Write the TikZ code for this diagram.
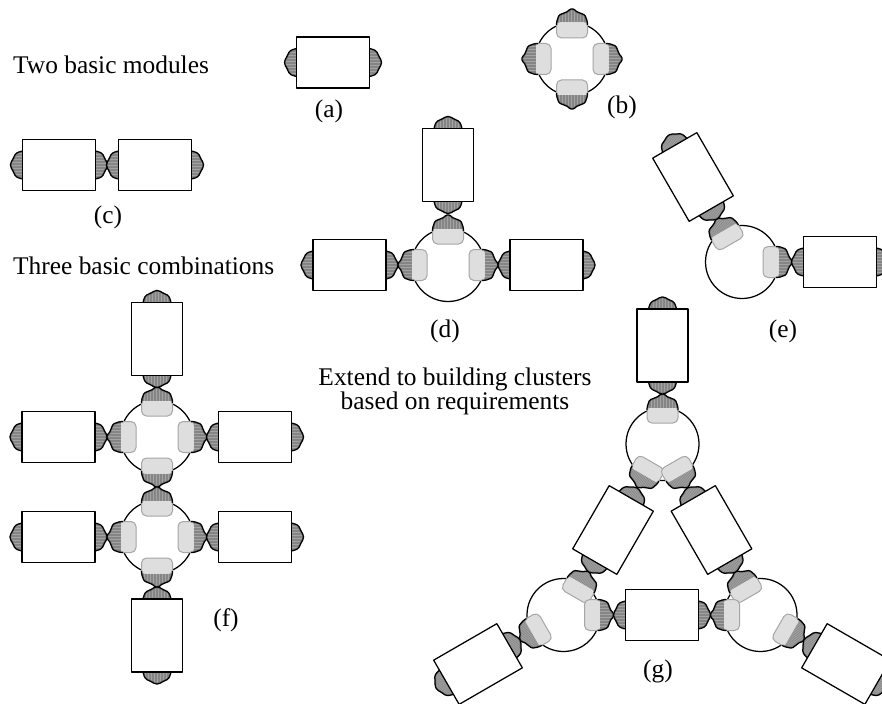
\documentclass[tikz,border=0pt]{standalone}
\usepackage{fontspec}
\setmainfont{Liberation Serif}
\def\portopen{(34,-15.5) -- (37.5,-15.3) -- (44,-13) -- (46.8,-6) -- (48,-3.5) -- (50,-2.2) -- (50,2.2) -- (48,3.5) -- (46.8,6) -- (44,13) -- (37.5,15.3) -- (34,15.5)}
\def\portrim{(36.5,-15.3) -- (37.5,-15.3) -- (44,-13) -- (46.8,-6) -- (48,-3.5) -- (50,-2.2) -- (50,2.2) -- (48,3.5) -- (46.8,6) -- (44,13) -- (37.5,15.3) -- (36.5,15.3)}
\def\capopen{(36,-14) -- (39,-13.5) -- (43.5,-11.5) -- (46.5,-5) -- (48.4,-2.2) -- (48.4,2.2) -- (46.5,5) -- (43.5,11.5) -- (39,13.5) -- (36,14)}
\newcommand\capDraw{%
  \begin{scope}
    \clip[rounded corners=1.5pt] \capopen -- cycle;
    \fill[black!36] (36,-15) rectangle (50,15);
    \foreach \t in {-14.5,-13,...,14.5} {\draw[hatch] (36,\t) -- (50,\t);}
    \draw[rim] \capopen;
  \end{scope}
  \draw[outline,rounded corners=1.5pt] \capopen;
}
\tikzset{
  lab/.style={font=\fontsize{25.4}{30}\selectfont, inner sep=0pt, anchor=base},
  outline/.style={draw=black, line width=1.25pt, line join=round},
  hatch/.style={draw=black!48, line width=0.5pt},
  rim/.style={draw=black!62, line width=2.5pt, opacity=0.6},
  lightpad/.style={fill=black!13, draw=black!35, line width=1pt, rounded corners=5pt},
  port/.pic={
    \fill[lightpad] (21,-15.5) rectangle (38,15.5);
    \begin{scope}
      \clip[rounded corners=1.2pt] \portopen -- cycle;
      \fill[black!36] (36.5,-16) rectangle (51,16);
      \foreach \t in {-15,-13.5,...,15} {\draw[hatch] (36.5,\t) -- (51,\t);}
      \draw[rim,rounded corners=1.2pt] \portrim;
    \end{scope}
    \draw[outline,rounded corners=1.2pt] \portopen;
  },
  module/.pic={
    \capDraw
    \begin{scope}[rotate=180]\capDraw\end{scope}
    \filldraw[outline,fill=white] (-36.5,-25.5) rectangle (36.5,25.5);
  },
}
\newcommand\hubAt[3]{%
  \filldraw[outline,fill=white] (#1,#2) circle (36.5);
  \foreach \a in {#3} {\pic[rotate=\a] at (#1,#2) {port};}
}
\newcommand\modAt[3]{\pic[rotate=#3] at (#1,#2) {module};}
\begin{document}
\begin{tikzpicture}[x=1pt,y=-1pt]
\useasboundingbox (0,0) rectangle (882,703);
\clip (0,0) rectangle (882,703);
\fill[white] (0,0) rectangle (882,703);
% a, b
\modAt{333}{62.5}{0}
\hubAt{572}{59}{0,90,180,270}
% c
\modAt{59}{165}{0}
\modAt{155}{165}{0}
% d
\hubAt{448}{265}{0,90,180}
\modAt{448}{165}{90}
\modAt{349.5}{265}{0}
\modAt{546.5}{265}{0}
% e
\hubAt{742}{262}{0,120}
\modAt{840}{262}{0}
\modAt{693}{177}{120}
% f
\hubAt{157}{437}{0,90,180,270}
\hubAt{157}{537}{0,90,180,270}
\modAt{157}{339}{90}
\modAt{58.5}{437}{0}
\modAt{255}{437}{0}
\modAt{58.5}{537}{0}
\modAt{255}{537}{0}
\modAt{157}{635.5}{90}
% g
\hubAt{662.5}{444}{90,240,300}
\hubAt{563.5}{615}{60,0,210}
\hubAt{760.5}{615}{120,180,330}
\modAt{662.5}{345.5}{90}
\modAt{662}{615}{0}
\modAt{613}{530}{60}
\modAt{711.5}{530}{120}
\modAt{478}{664}{30}
\modAt{846}{664}{150}
% text
\node[lab,anchor=base west] (t1) at (13,74) {Two basic modules};
\node[lab] (la) at (329,118) {(a)};
\node[lab] (lb) at (622,114) {(b)};
\node[lab] (lc) at (108,223) {(c)};
\node[lab,anchor=base west] (t2) at (13,274) {Three basic combinations};
\node[lab] (ld) at (445,337) {(d)};
\node[lab] (le) at (783,337) {(e)};
\node[lab] (t3) at (455,385) {Extend to building clusters};
\node[lab] (t4) at (455,409) {based on requirements};
\node[lab] (lf) at (226,626) {(f)};
\node[lab] (lg) at (658,677) {(g)};
\end{tikzpicture}
\end{document}
